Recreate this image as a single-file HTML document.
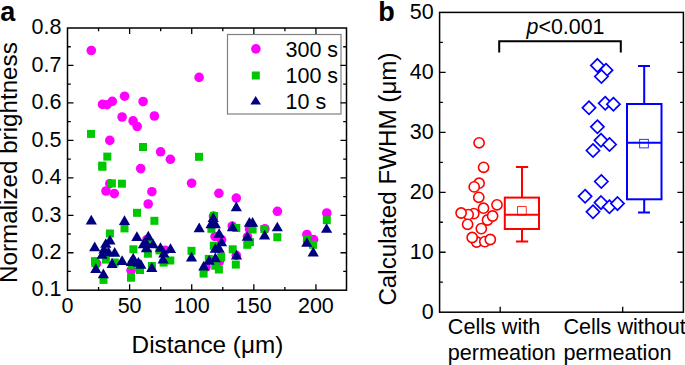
<!DOCTYPE html>
<html><head><meta charset="utf-8"><style>
html,body{margin:0;padding:0;background:#fff;width:685px;height:365px;overflow:hidden}
svg{display:block}
text{font-family:"Liberation Sans", sans-serif}
</style></head><body>
<svg width="685" height="365" viewBox="0 0 685 365" font-family='"Liberation Sans", sans-serif'>
<g fill="#ff00ff">
<circle cx="91.3" cy="50.5" r="4.8"/>
<circle cx="199.1" cy="77.4" r="4.8"/>
<circle cx="102.5" cy="104.4" r="4.8"/>
<circle cx="107" cy="104.7" r="4.8"/>
<circle cx="112.3" cy="101.3" r="4.8"/>
<circle cx="124.6" cy="96.2" r="4.8"/>
<circle cx="143.1" cy="101.5" r="4.8"/>
<circle cx="122.1" cy="117" r="4.8"/>
<circle cx="133.1" cy="120.9" r="4.8"/>
<circle cx="137.2" cy="126.5" r="4.8"/>
<circle cx="154.4" cy="116" r="4.8"/>
<circle cx="109.8" cy="140.4" r="4.8"/>
<circle cx="160.6" cy="151.8" r="4.8"/>
<circle cx="170.4" cy="159.3" r="4.8"/>
<circle cx="140.7" cy="168.6" r="4.8"/>
<circle cx="109.8" cy="183.7" r="4.8"/>
<circle cx="106" cy="191" r="4.8"/>
<circle cx="114.3" cy="193.6" r="4.8"/>
<circle cx="151.9" cy="191.7" r="4.8"/>
<circle cx="148.2" cy="204" r="4.8"/>
<circle cx="191.6" cy="183.2" r="4.8"/>
<circle cx="218.9" cy="193.3" r="4.8"/>
<circle cx="236.3" cy="198.1" r="4.8"/>
<circle cx="277.4" cy="211.3" r="4.8"/>
<circle cx="326.8" cy="213" r="4.8"/>
<circle cx="213.5" cy="216.1" r="4.8"/>
<circle cx="215.1" cy="236.5" r="4.8"/>
<circle cx="221.6" cy="239.8" r="4.8"/>
<circle cx="232.2" cy="226.1" r="4.8"/>
<circle cx="249.5" cy="229" r="4.8"/>
<circle cx="247.5" cy="236.8" r="4.8"/>
<circle cx="264.9" cy="228.9" r="4.8"/>
<circle cx="236.3" cy="255.4" r="4.8"/>
<circle cx="219.5" cy="261.3" r="4.8"/>
<circle cx="206" cy="267" r="4.8"/>
<circle cx="306.9" cy="234.5" r="4.8"/>
<circle cx="313.6" cy="239.6" r="4.8"/>
<circle cx="96.5" cy="263.5" r="4.8"/>
<circle cx="131.1" cy="270.5" r="4.8"/>
<circle cx="165.3" cy="250.3" r="4.8"/>
<circle cx="147" cy="239.5" r="4.8"/>
</g>
<g fill="#00c800">
<rect x="87.0" y="129.9" width="8.0" height="8.0"/>
<rect x="139.0" y="143.0" width="8.0" height="8.0"/>
<rect x="103.3" y="152.6" width="8.0" height="8.0"/>
<rect x="98.2" y="161.6" width="8.0" height="8.0"/>
<rect x="98.4" y="162.8" width="8.0" height="8.0"/>
<rect x="195.0" y="152.8" width="8.0" height="8.0"/>
<rect x="107.9" y="179.4" width="8.0" height="8.0"/>
<rect x="117.9" y="179.7" width="8.0" height="8.0"/>
<rect x="133.0" y="208.8" width="8.0" height="8.0"/>
<rect x="150.4" y="216.8" width="8.0" height="8.0"/>
<rect x="120.5" y="224.4" width="8.0" height="8.0"/>
<rect x="105.9" y="229.5" width="8.0" height="8.0"/>
<rect x="129.4" y="245.3" width="8.0" height="8.0"/>
<rect x="91.0" y="257.1" width="8.0" height="8.0"/>
<rect x="91.3" y="259.2" width="8.0" height="8.0"/>
<rect x="101.9" y="255.6" width="8.0" height="8.0"/>
<rect x="110.8" y="258.5" width="8.0" height="8.0"/>
<rect x="99.5" y="275.9" width="8.0" height="8.0"/>
<rect x="127.0" y="273.7" width="8.0" height="8.0"/>
<rect x="127.8" y="260.8" width="8.0" height="8.0"/>
<rect x="136.0" y="266.0" width="8.0" height="8.0"/>
<rect x="143.9" y="249.7" width="8.0" height="8.0"/>
<rect x="166.3" y="256.5" width="8.0" height="8.0"/>
<rect x="159.6" y="258.6" width="8.0" height="8.0"/>
<rect x="147.9" y="262.0" width="8.0" height="8.0"/>
<rect x="187.5" y="246.8" width="8.0" height="8.0"/>
<rect x="145.3" y="238.7" width="8.0" height="8.0"/>
<rect x="155.5" y="246.4" width="8.0" height="8.0"/>
<rect x="199.6" y="269.6" width="8.0" height="8.0"/>
<rect x="210.0" y="212.0" width="8.0" height="8.0"/>
<rect x="207.4" y="224.8" width="8.0" height="8.0"/>
<rect x="232.3" y="224.0" width="8.0" height="8.0"/>
<rect x="248.6" y="225.5" width="8.0" height="8.0"/>
<rect x="243.3" y="240.8" width="8.0" height="8.0"/>
<rect x="260.4" y="225.0" width="8.0" height="8.0"/>
<rect x="209.8" y="241.7" width="8.0" height="8.0"/>
<rect x="217.2" y="253.0" width="8.0" height="8.0"/>
<rect x="204.8" y="254.9" width="8.0" height="8.0"/>
<rect x="211.3" y="261.7" width="8.0" height="8.0"/>
<rect x="214.9" y="265.5" width="8.0" height="8.0"/>
<rect x="228.7" y="245.3" width="8.0" height="8.0"/>
<rect x="231.8" y="260.6" width="8.0" height="8.0"/>
<rect x="246.0" y="238.1" width="8.0" height="8.0"/>
<rect x="273.3" y="233.2" width="8.0" height="8.0"/>
<rect x="322.8" y="216.2" width="8.0" height="8.0"/>
<rect x="302.9" y="235.2" width="8.0" height="8.0"/>
<rect x="309.0" y="240.8" width="8.0" height="8.0"/>
</g>
<g fill="#000080">
<path d="M91.3 214.8L96.9 224.4L85.7 224.4Z"/>
<path d="M124.5 215.3L130.1 225.0L118.9 225.0Z"/>
<path d="M109.9 234.8L115.5 244.4L104.3 244.4Z"/>
<path d="M136.9 231.2L142.5 240.9L131.3 240.9Z"/>
<path d="M105.8 238.2L111.4 247.8L100.2 247.8Z"/>
<path d="M94.7 241.5L100.3 251.2L89.1 251.2Z"/>
<path d="M102.2 249.1L107.8 258.8L96.6 258.8Z"/>
<path d="M114.7 247.1L120.3 256.8L109.1 256.8Z"/>
<path d="M122.1 255.3L127.7 265.1L116.5 265.1Z"/>
<path d="M112.1 258.1L117.7 267.9L106.5 267.9Z"/>
<path d="M133.2 252.8L138.8 262.6L127.6 262.6Z"/>
<path d="M131.3 256.3L136.9 266.1L125.7 266.1Z"/>
<path d="M95.8 263.2L101.4 273.0L90.2 273.0Z"/>
<path d="M103.4 268.5L109.0 278.2L97.8 278.2Z"/>
<path d="M138.4 256.9L144.0 266.7L132.8 266.7Z"/>
<path d="M140.8 259.0L146.4 268.8L135.2 268.8Z"/>
<path d="M199.2 222.5L204.8 232.2L193.6 232.2Z"/>
<path d="M148.3 230.8L153.9 240.5L142.7 240.5Z"/>
<path d="M143.4 238.5L149.0 248.2L137.8 248.2Z"/>
<path d="M146.5 238.1L152.1 247.8L140.9 247.8Z"/>
<path d="M153.1 238.7L158.7 248.3L147.5 248.3Z"/>
<path d="M146.4 242.5L152.0 252.2L140.8 252.2Z"/>
<path d="M160.5 242.2L166.1 251.8L154.9 251.8Z"/>
<path d="M170.5 243.2L176.1 252.9L164.9 252.9Z"/>
<path d="M163.8 247.8L169.4 257.4L158.2 257.4Z"/>
<path d="M163.1 253.7L168.7 263.4L157.5 263.4Z"/>
<path d="M151.8 262.3L157.4 272.1L146.2 272.1Z"/>
<path d="M191.5 251.7L197.1 261.4L185.9 261.4Z"/>
<path d="M203.8 260.8L209.4 270.5L198.2 270.5Z"/>
<path d="M236.3 201.6L241.9 211.2L230.7 211.2Z"/>
<path d="M213.2 212.3L218.8 222.0L207.6 222.0Z"/>
<path d="M211.1 218.5L216.7 228.2L205.5 228.2Z"/>
<path d="M215.3 218.5L220.9 228.2L209.7 228.2Z"/>
<path d="M219.1 228.2L224.7 237.8L213.5 237.8Z"/>
<path d="M221.5 236.7L227.1 246.3L215.9 246.3Z"/>
<path d="M232.4 221.5L238.0 231.2L226.8 231.2Z"/>
<path d="M249.4 217.1L255.0 226.8L243.8 226.8Z"/>
<path d="M252.6 217.1L258.2 226.8L247.0 226.8Z"/>
<path d="M247.3 231.2L252.9 240.8L241.7 240.8Z"/>
<path d="M264.6 229.8L270.2 239.4L259.0 239.4Z"/>
<path d="M215.3 243.2L220.9 252.8L209.7 252.8Z"/>
<path d="M219.2 243.0L224.8 252.7L213.6 252.7Z"/>
<path d="M215.3 252.5L220.9 262.2L209.7 262.2Z"/>
<path d="M209.2 255.0L214.8 264.7L203.6 264.7Z"/>
<path d="M236.5 249.8L242.1 259.4L230.9 259.4Z"/>
<path d="M277.3 221.7L282.9 231.3L271.7 231.3Z"/>
<path d="M104.0 243.8L109.6 253.4L98.4 253.4Z"/>
<path d="M108.5 246.5L114.1 256.2L102.9 256.2Z"/>
<path d="M326.6 223.2L332.2 232.8L321.0 232.8Z"/>
<path d="M306.8 237.2L312.4 246.8L301.2 246.8Z"/>
<path d="M313.2 246.7L318.8 256.4L307.6 256.4Z"/>
</g>
<rect x="227.5" y="34.5" width="113.5" height="79.5" fill="#fff" stroke="#808080" stroke-width="1.2"/>
<circle cx="255.9" cy="48.9" r="4.8" fill="#ff00ff"/>
<rect x="251.8" y="71.5" width="8" height="8" fill="#00c800"/>
<path d="M255.7 95.9L261 104.5L250.4 104.5Z" fill="#000080"/>
<g font-size="21.5" fill="#000">
<text x="285.5" y="56.8">300 s</text>
<text x="285.5" y="82.7">100 s</text>
<text x="285.5" y="108.8">10 s</text>
</g>
<path d="M67.5 271.47h3.3M346.5 271.47h-3.3M67.5 252.74h6M346.5 252.74h-6M67.5 234.01h3.3M346.5 234.01h-3.3M67.5 215.29h6M346.5 215.29h-6M67.5 196.56h3.3M346.5 196.56h-3.3M67.5 177.83h6M346.5 177.83h-6M67.5 159.10h3.3M346.5 159.10h-3.3M67.5 140.37h6M346.5 140.37h-6M67.5 121.64h3.3M346.5 121.64h-3.3M67.5 102.91h6M346.5 102.91h-6M67.5 84.19h3.3M346.5 84.19h-3.3M67.5 65.46h6M346.5 65.46h-6M67.5 46.73h3.3M346.5 46.73h-3.3M98.56 290.2v-3.3M98.56 28.0v3.3M129.61 290.2v-6M129.61 28.0v6M160.67 290.2v-3.3M160.67 28.0v3.3M191.72 290.2v-6M191.72 28.0v6M222.78 290.2v-3.3M222.78 28.0v3.3M253.83 290.2v-6M253.83 28.0v6M284.89 290.2v-3.3M284.89 28.0v3.3M315.94 290.2v-6M315.94 28.0v6" stroke="#000" stroke-width="1.3" fill="none"/>
<rect x="67.5" y="28.0" width="279.0" height="262.2" fill="none" stroke="#000" stroke-width="1.5"/>
<g font-size="21.5" fill="#000" text-anchor="end">
<text x="61.5" y="296.4">0.1</text>
<text x="61.5" y="258.9">0.2</text>
<text x="61.5" y="221.5">0.3</text>
<text x="61.5" y="184.0">0.4</text>
<text x="61.5" y="146.6">0.5</text>
<text x="61.5" y="109.1">0.6</text>
<text x="61.5" y="71.7">0.7</text>
<text x="61.5" y="34.2">0.8</text>
</g>
<g font-size="21.5" fill="#000" text-anchor="middle">
<text x="67.5" y="313.2">0</text>
<text x="129.6" y="313.2">50</text>
<text x="191.7" y="313.2">100</text>
<text x="253.8" y="313.2">150</text>
<text x="315.9" y="313.2">200</text>
</g>
<text x="131.6" y="352.9" font-size="24.3">Distance (μm)</text>
<text transform="translate(17.3 282.9) rotate(-90)" font-size="24.2">Normalized brightness</text>
<text x="0.3" y="21.2" font-size="27" font-weight="bold">a</text>
<g stroke="#ff0000" fill="none" stroke-width="2">
<path d="M522 167.1V197.1M522 228.3V241.4M515.9 167.1H528.2M515.9 241.4H528.2"/>
<rect x="504.8" y="197.6" width="34.2" height="31.4"/>
<path d="M504.8 214.8H539"/>
</g>
<rect x="517.6" y="206.6" width="8.6" height="8.4" fill="none" stroke="#ff0000" stroke-width="0.8"/>
<g stroke="#ff0000" fill="#fff" stroke-width="1.6">
<circle cx="479.1" cy="142.8" r="5.1"/>
<circle cx="483.6" cy="167.3" r="5.1"/>
<circle cx="479.1" cy="183.2" r="5.1"/>
<circle cx="474.2" cy="186.9" r="5.1"/>
<circle cx="478.8" cy="197.3" r="5.1"/>
<circle cx="473.8" cy="213.6" r="5.1"/>
<circle cx="468.2" cy="214.6" r="5.1"/>
<circle cx="461.1" cy="213.0" r="5.1"/>
<circle cx="483.5" cy="208.2" r="5.1"/>
<circle cx="497.0" cy="204.8" r="5.1"/>
<circle cx="487.5" cy="220.0" r="5.1"/>
<circle cx="492.6" cy="216.0" r="5.1"/>
<circle cx="467.6" cy="224.3" r="5.1"/>
<circle cx="481.3" cy="228.6" r="5.1"/>
<circle cx="476.6" cy="242.0" r="5.1"/>
<circle cx="484.8" cy="241.6" r="5.1"/>
<circle cx="490.3" cy="239.5" r="5.1"/>
<circle cx="472.2" cy="237.5" r="5.1"/>
</g>
<g stroke="#0000ff" fill="none" stroke-width="2">
<path d="M644.2 66V104M644.2 199.3V212.4M638 66H650M638 212.4H650"/>
<rect x="627" y="104" width="34.5" height="95.3"/>
<path d="M627 142.7H661.5"/>
</g>
<rect x="639.7" y="139.3" width="8.6" height="8.6" fill="none" stroke="#0000ff" stroke-width="0.8"/>
<g stroke="#0000ff" fill="#fff" stroke-width="1.7">
<path d="M606.0 63.6L612.6 70.2L606.0 76.8L599.4 70.2Z"/>
<path d="M597.4 58.8L604.0 65.4L597.4 72.0L590.8 65.4Z"/>
<path d="M601.4 69.9L608.0 76.5L601.4 83.1L594.8 76.5Z"/>
<path d="M589.0 101.2L595.6 107.8L589.0 114.4L582.4 107.8Z"/>
<path d="M605.2 96.7L611.8 103.3L605.2 109.9L598.6 103.3Z"/>
<path d="M613.4 97.6L620.0 104.2L613.4 110.8L606.8 104.2Z"/>
<path d="M597.4 120.2L604.0 126.8L597.4 133.4L590.8 126.8Z"/>
<path d="M601.0 133.7L607.6 140.3L601.0 146.9L594.4 140.3Z"/>
<path d="M609.5 137.9L616.1 144.5L609.5 151.1L602.9 144.5Z"/>
<path d="M593.0 143.9L599.6 150.5L593.0 157.1L586.4 150.5Z"/>
<path d="M601.3 174.9L607.9 181.5L601.3 188.1L594.7 181.5Z"/>
<path d="M585.1 189.7L591.7 196.3L585.1 202.9L578.5 196.3Z"/>
<path d="M601.0 196.0L607.6 202.6L601.0 209.2L594.4 202.6Z"/>
<path d="M609.4 200.2L616.0 206.8L609.4 213.4L602.8 206.8Z"/>
<path d="M617.5 197.0L624.1 203.6L617.5 210.2L610.9 203.6Z"/>
<path d="M593.0 205.2L599.6 211.8L593.0 218.4L586.4 211.8Z"/>
</g>
<path d="M439.6 282.22h3.3M683.4 282.22h-3.3M439.6 252.24h6M683.4 252.24h-6M439.6 222.26h3.3M683.4 222.26h-3.3M439.6 192.28h6M683.4 192.28h-6M439.6 162.30h3.3M683.4 162.30h-3.3M439.6 132.32h6M683.4 132.32h-6M439.6 102.34h3.3M683.4 102.34h-3.3M439.6 72.36h6M683.4 72.36h-6M439.6 42.38h3.3M683.4 42.38h-3.3M500.2 312.2v-5.5M622.7 312.2v-5.5" stroke="#000" stroke-width="1.3" fill="none"/>
<rect x="439.6" y="12.4" width="243.79999999999995" height="299.8" fill="none" stroke="#000" stroke-width="1.5"/>
<g font-size="21.5" fill="#000" text-anchor="end">
<text x="433.6" y="318.9">0</text>
<text x="433.6" y="258.9">10</text>
<text x="433.6" y="199.0">20</text>
<text x="433.6" y="139.0">30</text>
<text x="433.6" y="79.1">40</text>
<text x="433.6" y="19.1">50</text>
</g>
<g font-size="21.6" fill="#000">
<text x="447.8" y="334.1">Cells with</text>
<text x="447.8" y="360.1">permeation</text>
<text x="563.4" y="334.1">Cells without</text>
<text x="563.4" y="360.1">permeation</text>
</g>
<text transform="translate(395.8 305.6) rotate(-90)" font-size="24.2">Calculated FWHM (μm)</text>
<text x="378.2" y="21.2" font-size="27" font-weight="bold">b</text>
<path d="M499.2 52.5V41.3H620.8V52.5" stroke="#000" stroke-width="2" fill="none"/>
<text x="526.5" y="34.1" font-size="21.4"><tspan font-style="italic">p</tspan>&lt;0.001</text>
</svg>
</body></html>
